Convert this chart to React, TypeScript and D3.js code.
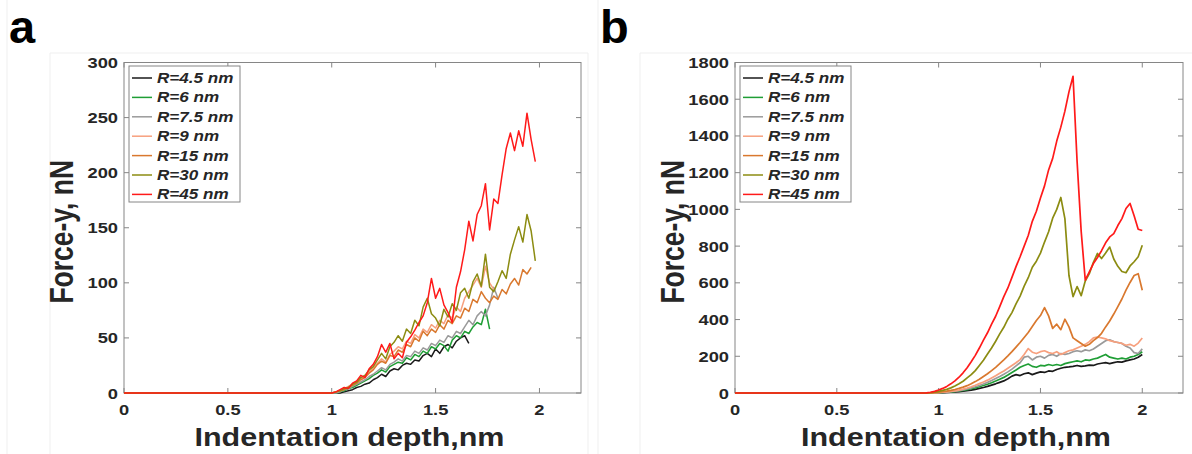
import React from "react";
import * as d3 from "d3";

// shared x grid (nm)
const X = [0, 0.90, 0.92, 0.94, 0.96, 0.98,
  1.00, 1.02, 1.04, 1.06, 1.08, 1.10, 1.12, 1.14, 1.16, 1.18,
  1.20, 1.22, 1.24, 1.26, 1.28, 1.30, 1.32, 1.34, 1.36, 1.38,
  1.40, 1.42, 1.44, 1.46, 1.48, 1.50, 1.52, 1.54, 1.56, 1.58,
  1.60, 1.62, 1.64, 1.66, 1.68, 1.70, 1.72, 1.74, 1.76, 1.78,
  1.80, 1.82, 1.84, 1.86, 1.88, 1.90, 1.92, 1.94, 1.96, 1.98,
  2.00];

const LABELS = ["R=4.5 nm", "R=6 nm", "R=7.5 nm", "R=9 nm", "R=15 nm", "R=30 nm", "R=45 nm"];
const COLORS = ["#1a1a1a", "#1f9e35", "#9a9a9a", "#f7a07e", "#d9782e", "#8c8c12", "#ff1a1a"];

// panel a (nN)
const A_R4_5 = [0, 0, 0, 0, 0, 0,
  0, 0, 0, 1, 2, 3, 5, 6, 8, 9,
  12, 14, 17, 15, 20, 22, 21, 25, 27, 26,
  30, 29, 34, 36, 33, 40, 36, 42, 44, 41,
  47, 50, 52, 45];
const A_R6 = [0, 0, 0, 0, 0, 0,
  0, 0, 1, 2, 4, 5, 7, 9, 11, 13,
  16, 18, 21, 19, 24, 26, 28, 27, 32, 30,
  35, 33, 38, 36, 42, 40, 45, 43, 38, 48,
  52, 50, 56, 54, 60, 64, 62, 76, 58];
const A_R7_5 = [0, 0, 0, 0, 0, 0,
  0, 0, 1, 3, 4, 6, 8, 10, 12, 15,
  17, 20, 23, 21, 26, 28, 31, 29, 34, 33,
  38, 36, 41, 39, 45, 43, 48, 46, 52, 50,
  56, 54, 60, 66, 62, 70, 74, 70, 80, 96,
  86];
const A_R9 = [0, 0, 0, 0, 0, 0,
  0, 1, 2, 4, 6, 8, 10, 13, 16, 19,
  23, 27, 31, 28, 35, 38, 42, 40, 47, 45,
  53, 50, 58, 55, 62, 59, 66, 63, 71, 68,
  78, 74, 86, 92, 98, 104, 96, 115, 100, 94];
const A_R15 = [0, 0, 0, 0, 0, 0,
  0, 1, 2, 3, 5, 7, 9, 12, 14, 18,
  21, 26, 29, 27, 34, 33, 39, 37, 44, 42,
  50, 47, 56, 52, 58, 55, 62, 58, 66, 63,
  70, 68, 77, 74, 85, 82, 92, 86, 82, 88,
  85, 94, 90, 99, 104, 98, 112, 108, 114];
const A_R30 = [0, 0, 0, 0, 0, 0,
  0, 1, 2, 4, 5, 8, 10, 14, 16, 21,
  24, 30, 36, 31, 42, 46, 52, 47, 58, 54,
  66, 61, 78, 86, 72, 68, 61, 76, 69, 81,
  75, 91, 95, 86, 101, 108, 97, 126, 96, 92,
  101, 111, 104, 126, 139, 151, 137, 162, 147, 120];
const A_R45 = [0, 0, 0, 0, 0, 0,
  0, 1, 3, 5, 4, 9, 11, 16, 14, 22,
  26, 33, 44, 37, 45, 31, 36, 32, 46, 51,
  57, 64, 70, 82, 104, 86, 95, 80, 73, 64,
  96, 110, 130, 156, 138, 162, 170, 190, 148, 176,
  172, 198, 222, 236, 220, 238, 224, 254, 230, 210];

// panel b (nN)
const B_R4_5 = [0, 0, 0, 0, 0, 0,
  1, 2, 3, 4, 6, 8, 10, 13, 16, 20,
  25, 30, 36, 43, 50, 58, 66, 78, 92, 100,
  95, 105, 110, 100, 108, 115, 112, 120, 118, 128,
  135, 140, 142, 145, 150, 145, 148, 152, 150, 158,
  162, 165, 160, 165, 170, 168, 175, 180, 185, 195,
  210];
const B_R6 = [0, 0, 0, 0, 0, 1,
  2, 3, 4, 6, 8, 11, 14, 18, 23, 28,
  34, 41, 48, 56, 65, 75, 85, 98, 112, 125,
  140, 150, 158, 145, 140, 150, 148, 155, 150, 155,
  150, 160, 165, 170, 175, 170, 180, 178, 185, 190,
  200, 210, 195, 190, 185, 190, 185, 195, 200, 210,
  225];
const B_R7_5 = [0, 0, 0, 0, 0, 1,
  2, 3, 5, 7, 10, 13, 17, 22, 28, 34,
  41, 49, 58, 68, 79, 90, 102, 115, 130, 148,
  165, 195, 200, 180, 195, 200, 190, 205, 210, 200,
  215, 210, 215, 225, 230, 225, 235, 230, 240, 255,
  270, 285, 290, 280, 275, 270, 255, 245, 220, 215,
  240];
const B_R9 = [0, 0, 0, 0, 0, 1,
  2, 4, 6, 9, 12, 16, 21, 27, 34, 42,
  51, 60, 70, 82, 94, 107, 120, 135, 150, 165,
  182, 210, 242, 222, 215, 225, 230, 220, 215, 225,
  210, 220, 230, 235, 245, 255, 265, 280, 300, 305,
  300, 295, 285, 280, 275, 270, 260, 265, 255, 272,
  300];
const B_R15 = [0, 0, 0, 0, 1, 2,
  4, 7, 10, 14, 19, 25, 32, 40, 50, 62,
  75, 90, 105, 122, 140, 160, 180, 202, 225, 250,
  275, 302, 330, 362, 395, 422, 465, 420, 352, 375,
  345, 402, 360, 300, 285, 270, 255, 265, 285, 302,
  325, 360, 392, 430, 470, 512, 560, 602, 640, 650,
  560];
const B_R30 = [0, 0, 0, 0, 2, 5,
  9, 14, 20, 28, 38, 50, 64, 82, 100, 122,
  150, 178, 212, 245, 282, 322, 358, 402, 438, 485,
  528, 582, 628, 685, 718, 762, 822, 878, 952, 1000,
  1065, 950, 640, 525, 580, 530, 610, 650, 712, 760,
  732, 762, 795, 730, 690, 662, 655, 692, 715, 742,
  805];
const B_R45 = [0, 0, 0, 1, 4, 9,
  16, 25, 36, 50, 66, 86, 110, 138, 170, 205,
  245, 288, 328, 375, 418, 470, 525, 572, 630, 688,
  742, 800, 858, 935, 990, 1062, 1128, 1215, 1278, 1372,
  1448, 1535, 1640, 1725, 1260, 880, 615, 660, 705, 738,
  775, 818, 850, 868, 912, 950, 1005, 1032, 965, 892,
  885];

const X_TICKS = [0, 0.5, 1, 1.5, 2];
const Y_TICKS_A = [0, 50, 100, 150, 200, 250, 300];
const Y_TICKS_B = [0, 200, 400, 600, 800, 1000, 1200, 1400, 1600, 1800];

const FONT = "'Liberation Sans', Arial, Helvetica, sans-serif";
const SX = 1.22; // horizontal stretch of the reference text
const TXT = "#262626";
const AXC = "#868686";

function T({ x, y, size, anchor = "start", italic = false, children }: any) {
  return (
    <text
      transform={`translate(${x},${y}) scale(${SX},1)`}
      fontFamily={FONT}
      fontWeight="bold"
      fontStyle={italic ? "italic" : "normal"}
      fontSize={size}
      textAnchor={anchor}
      fill={TXT}
    >
      {children}
    </text>
  );
}

function Panel({ left, right, top, bottom, yMax, yTicks, series, letter, letterX, legendX, lw }: any) {
  const xs = d3.scaleLinear().domain([0, 2.2]).range([left, right]);
  const ys = d3.scaleLinear().domain([0, yMax]).range([bottom, top]);
  const line = d3.line<[number, number]>().x((d) => xs(d[0])).y((d) => ys(d[1]));
  const tl = 5;
  const legTop = 66;
  const legStep = 19.4;
  return (
    <g>
      <text x={letterX} y={43} fontFamily={FONT} fontWeight="bold" fontSize={47} fill="#000">{letter}</text>
      <rect x={left} y={top} width={right - left} height={bottom - top} fill="#fff" stroke={AXC} strokeWidth={1} />
      {X_TICKS.map((t) => (
        <g key={"xt" + t}>
          <line x1={xs(t)} x2={xs(t)} y1={bottom} y2={bottom - tl} stroke={AXC} />
          <line x1={xs(t)} x2={xs(t)} y1={top} y2={top + tl} stroke={AXC} />
          <T x={xs(t)} y={bottom + 22} size={15} anchor="middle">{String(t)}</T>
        </g>
      ))}
      {yTicks.map((t: number) => (
        <g key={"yt" + t}>
          <line x1={left} x2={left + tl} y1={ys(t)} y2={ys(t)} stroke={AXC} />
          <line x1={right} x2={right - tl} y1={ys(t)} y2={ys(t)} stroke={AXC} />
          <T x={left - 6} y={ys(t) + 5.5} size={15} anchor="end">{String(t)}</T>
        </g>
      ))}
      {series.map((s: number[], i: number) => (
        <path
          key={"s" + i}
          d={line(s.map((v, j) => [X[j], v] as [number, number])) || ""}
          fill="none"
          stroke={COLORS[i]}
          strokeWidth={lw}
          strokeLinejoin="round"
        />
      ))}
      <rect x={legendX} y={legTop} width={111} height={136} fill="#fff" stroke={AXC} strokeWidth={1} />
      {LABELS.map((lab, i) => (
        <g key={"lg" + i}>
          <line x1={legendX + 3} x2={legendX + 23} y1={legTop + 12 + i * legStep} y2={legTop + 12 + i * legStep} stroke={COLORS[i]} strokeWidth={1.5} />
          <T x={legendX + 28} y={legTop + 17 + i * legStep} size={14} italic>{lab}</T>
        </g>
      ))}
      <T x={(left + right) / 2 - 3} y={446} size={25} anchor="middle">Indentation depth,nm</T>
      <text
        transform={`translate(${left - 51},${(top + bottom) / 2 + 4}) rotate(-90) scale(1,${SX})`}
        fontFamily={FONT}
        fontWeight="bold"
        fontSize={26.5}
        textAnchor="middle"
        fill={TXT}
      >
        Force-y, nN
      </text>
    </g>
  );
}

export default function App() {
  const faint = "#efefef";
  return (
    <svg width={1192} height={454} style={{ position: "absolute", left: 0, top: 0, background: "#fff" }}>
      <rect x={0} y={0} width={1192} height={454} fill="#fff" />
      <line x1={7} x2={7} y1={0} y2={454} stroke={faint} />
      <line x1={598} x2={598} y1={0} y2={454} stroke={faint} />
      <line x1={50} x2={50} y1={53} y2={454} stroke={faint} />
      <line x1={50} x2={588} y1={53} y2={53} stroke={faint} />
      <line x1={588} x2={588} y1={53} y2={454} stroke={faint} />
      <line x1={640} x2={640} y1={53} y2={454} stroke={faint} />
      <line x1={640} x2={1192} y1={53} y2={53} stroke={faint} />
      <Panel
        left={124} right={581} top={62.5} bottom={393}
        yMax={300} yTicks={Y_TICKS_A}
        series={[A_R4_5, A_R6, A_R7_5, A_R9, A_R15, A_R30, A_R45]}
        letter="a" letterX={9} legendX={129} lw={1.5}
      />
      <Panel
        left={735} right={1183} top={62.5} bottom={393}
        yMax={1800} yTicks={Y_TICKS_B}
        series={[B_R4_5, B_R6, B_R7_5, B_R9, B_R15, B_R30, B_R45]}
        letter="b" letterX={600} legendX={740} lw={1.7}
      />
    </svg>
  );
}
